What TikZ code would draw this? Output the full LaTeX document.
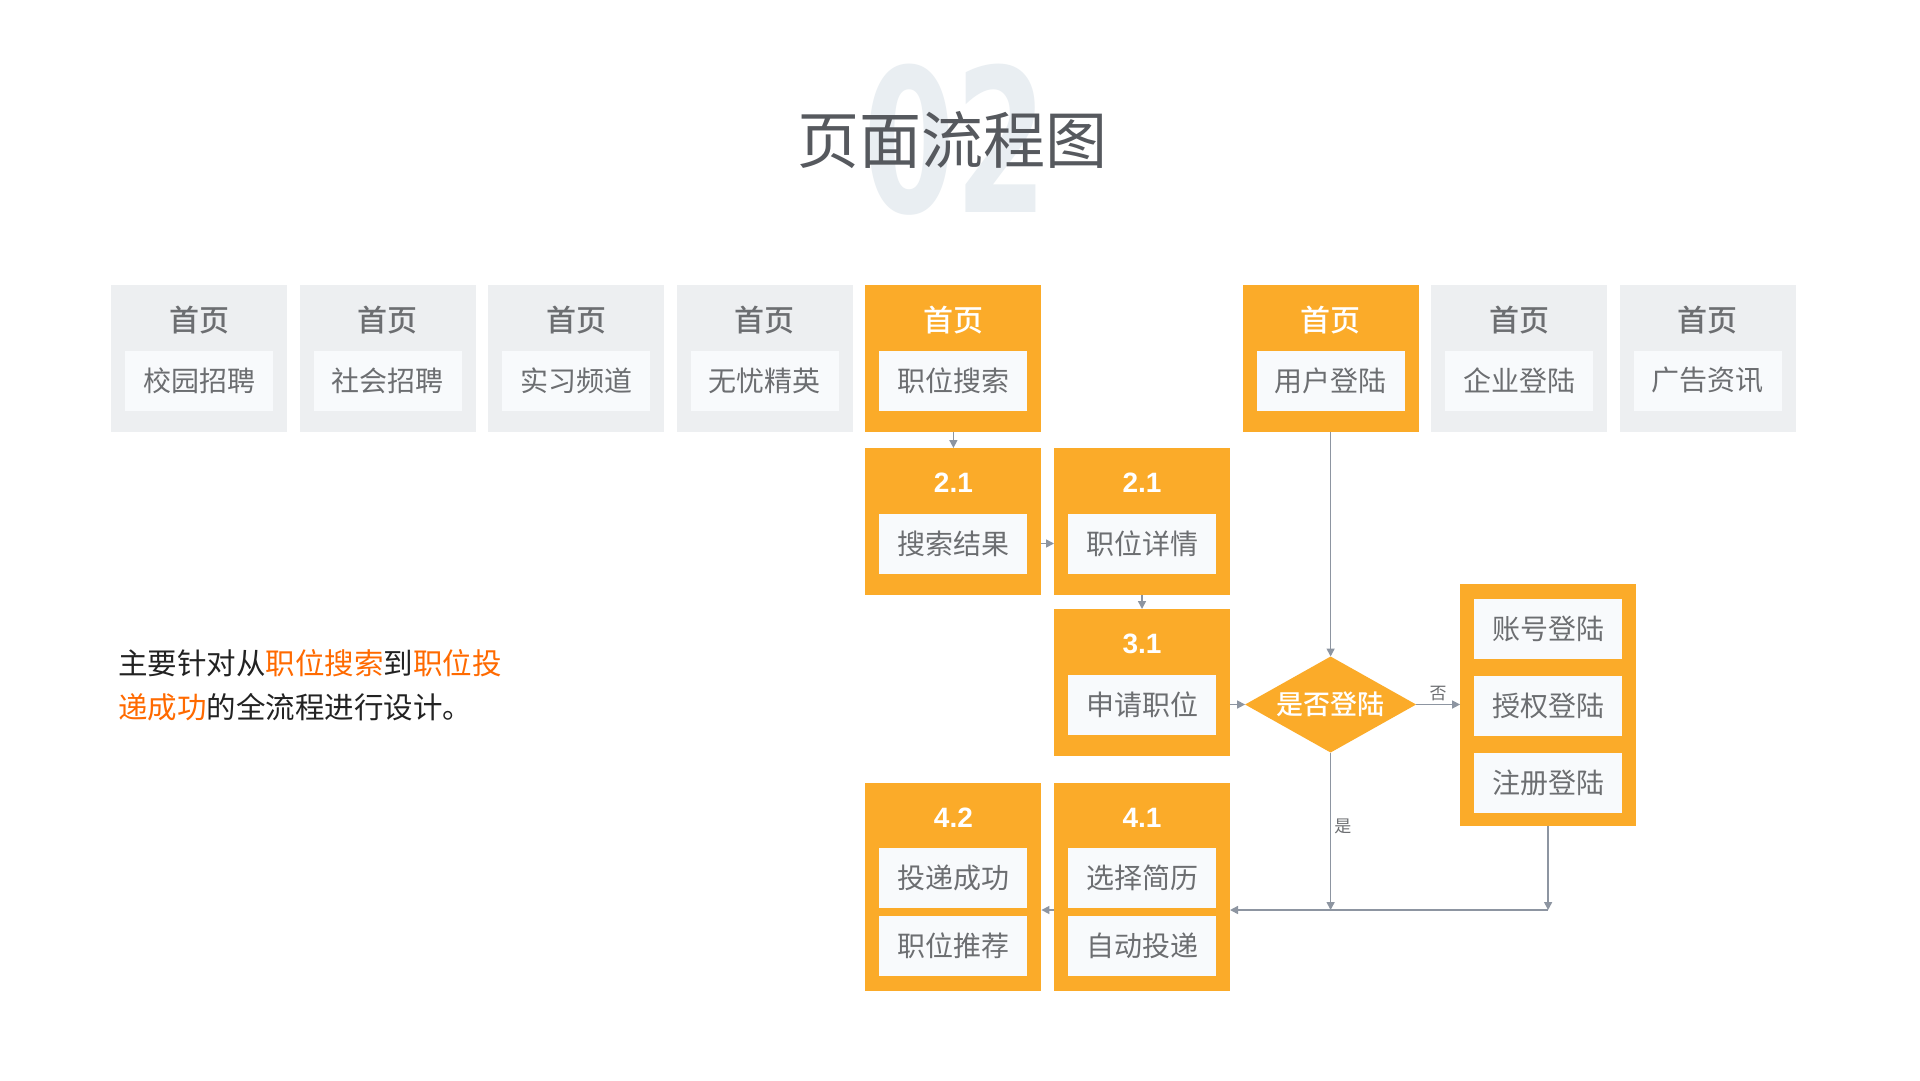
\documentclass[tikz,border=0pt]{standalone}
\usepackage{fontspec}
\setmainfont{Noto Sans CJK SC}
\newfontfamily\cjkmed{Noto Sans CJK SC Medium}
\newfontfamily\numfont{Liberation Sans}
\newfontfamily\bignum{DejaVu Sans}
\usepackage{tikz}
\usetikzlibrary{positioning,arrows.meta,shapes.geometric}

\definecolor{orangeC}{HTML}{FBAB29}
\definecolor{cardgray}{HTML}{EDEFF1}
\definecolor{boxwhite}{HTML}{F8FAFC}
\definecolor{txtgray}{HTML}{6C6E71}
\definecolor{linegray}{HTML}{8D95A1}
\definecolor{titlegray}{HTML}{56595E}
\definecolor{numbg}{HTML}{E9EEF2}
\definecolor{hlorange}{HTML}{FF6A00}
\definecolor{bodyblack}{HTML}{222222}

\tikzset{
  card/.style={minimum width=176pt, minimum height=147pt, inner sep=0pt, outer sep=0pt},
  graycard/.style={card, fill=cardgray},
  orgcard/.style={card, fill=orangeC},
  head/.style={inner sep=0pt, text=txtgray, font=\cjkmed\fontsize{30}{30}\selectfont},
  orghead/.style={head, text=white},
  numhead/.style={inner sep=0pt, text=white, font=\numfont\bfseries\fontsize{28}{28}\selectfont},
  inbox/.style={fill=boxwhite, minimum width=148pt, minimum height=60pt, inner sep=0pt,
    outer sep=0pt, text=txtgray, font=\fontsize{28}{28}\selectfont},
  choice/.style={diamond, fill=orangeC, aspect=1.78, minimum width=171pt, minimum height=96pt,
    inner sep=0pt, outer sep=0pt, text=white, font=\cjkmed\fontsize{27}{27}\selectfont},
  flow/.style={draw=linegray, line width=1.5pt, -{Triangle[length=8pt,width=8pt]}},
  tag/.style={inner sep=3pt, text=txtgray, font=\fontsize{17}{17}\selectfont}
}

\begin{document}
\begin{tikzpicture}[x=1pt,y=-1pt,node distance=12.6pt]
\useasboundingbox[fill=white] (0,0) rectangle (1920,1080);

% heading
\node[inner sep=0pt, text=numbg, font=\bignum\bfseries\fontsize{200}{200}\selectfont, xscale=0.66] (bg) at (955,140) {02};
\node[inner sep=0pt, text=titlegray, font=\fontsize{62}{62}\selectfont] (title) at (952,140) {页面流程图};

% top row
\node[graycard] (h1) at (199,358.5) {};
\node[graycard, right=of h1] (h2) {};
\node[graycard, right=of h2] (h3) {};
\node[graycard, right=of h3] (h4) {};
\node[orgcard,  right=of h4] (h5) {};
\node[orgcard,  right=201.2pt of h5] (h6) {};
\node[graycard, right=of h6] (h7) {};
\node[graycard, right=of h7] (h8) {};

\node[head]    (h1t) at ([yshift=-35pt]h1.north) {首页};
\node[head]    (h2t) at ([yshift=-35pt]h2.north) {首页};
\node[head]    (h3t) at ([yshift=-35pt]h3.north) {首页};
\node[head]    (h4t) at ([yshift=-35pt]h4.north) {首页};
\node[orghead] (h5t) at ([yshift=-35pt]h5.north) {首页};
\node[orghead] (h6t) at ([yshift=-35pt]h6.north) {首页};
\node[head]    (h7t) at ([yshift=-35pt]h7.north) {首页};
\node[head]    (h8t) at ([yshift=-35pt]h8.north) {首页};

\node[inbox] (h1b) at ([yshift=-95.5pt]h1.north) {校园招聘};
\node[inbox] (h2b) at ([yshift=-95.5pt]h2.north) {社会招聘};
\node[inbox] (h3b) at ([yshift=-95.5pt]h3.north) {实习频道};
\node[inbox] (h4b) at ([yshift=-95.5pt]h4.north) {无忧精英};
\node[inbox] (h5b) at ([yshift=-95.5pt]h5.north) {职位搜索};
\node[inbox] (h6b) at ([yshift=-95.5pt]h6.north) {用户登陆};
\node[inbox] (h7b) at ([yshift=-95.5pt]h7.north) {企业登陆};
\node[inbox] (h8b) at ([yshift=-95.5pt]h8.north) {广告资讯};

% search steps
\node[orgcard, below=16pt of h5] (r1) {};
\node[numhead] (r1t) at ([yshift=-35pt]r1.north) {2.1};
\node[inbox]   (r1b) at ([yshift=-95.5pt]r1.north) {搜索结果};

\node[orgcard, right=of r1] (r2) {};
\node[numhead] (r2t) at ([yshift=-35pt]r2.north) {2.1};
\node[inbox]   (r2b) at ([yshift=-95.5pt]r2.north) {职位详情};

\node[orgcard, below=14pt of r2] (s1) {};
\node[numhead] (s1t) at ([yshift=-35pt]s1.north) {3.1};
\node[inbox]   (s1b) at ([yshift=-95.5pt]s1.north) {申请职位};

% login check
\node[choice] (ask) at (h6 |- s1b) {是否登陆};
\node[orgcard, minimum height=242pt, right=44pt of ask] (way) {};
\node[inbox, below=15pt of way.north] (way1) {账号登陆};
\node[inbox, below=17pt of way1] (way2) {授权登陆};
\node[inbox, below=17pt of way2] (way3) {注册登陆};

% delivery
\node[orgcard, minimum height=208pt, below=27pt of s1] (d1) {};
\node[numhead] (d1t) at ([yshift=-35pt]d1.north) {4.1};
\node[inbox]   (d1a) at ([yshift=-95pt]d1.north) {选择简历};
\node[inbox, below=8pt of d1a] (d1b) {自动投递};

\node[orgcard, minimum height=208pt, left=of d1] (d2) {};
\node[numhead] (d2t) at ([yshift=-35pt]d2.north) {4.2};
\node[inbox]   (d2a) at ([yshift=-95pt]d2.north) {投递成功};
\node[inbox, below=8pt of d2a] (d2b) {职位推荐};

% arrows
\draw[flow] (h5) -- (r1);
\draw[flow] (r1b -| r1.east) -- (r2.west |- r1b);
\draw[flow] (r2) -- (s1);
\draw[flow] (s1b -| s1.east) -- (ask);
\draw[flow] (h6) -- (ask);
\draw[flow] (ask.east) -- node[tag, above] (no) {否} (ask.east -| way.west);
\coordinate (join) at ([yshift=-23pt]d1.east);
\draw[flow] (ask) -- node[tag, right, pos=0.47] (yes) {是} (ask |- join);
\draw[flow] (way) -- (way |- join);
\draw[flow] (way |- join) -- (join);
\draw[flow] (d1.west |- join) -- (d2.east |- join);

% note
\node[anchor=west, align=left, inner sep=0pt, text=bodyblack, font=\fontsize{29.5}{44}\selectfont] (note) at (118,685)
  {主要针对从\textcolor{hlorange}{职位搜索}到\textcolor{hlorange}{职位投}\\\textcolor{hlorange}{递成功}的全流程进行设计。};
\end{tikzpicture}
\end{document}
